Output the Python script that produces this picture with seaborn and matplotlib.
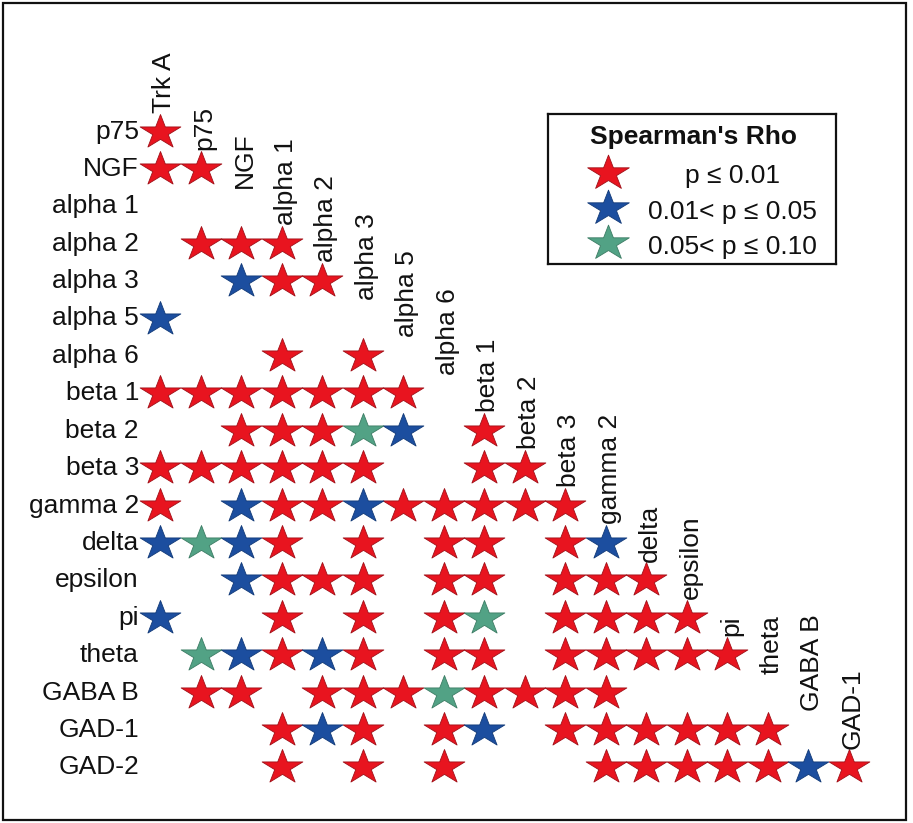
import numpy as np
import pandas as pd
import matplotlib
matplotlib.use("Agg")
import matplotlib.pyplot as plt
from matplotlib.path import Path
from matplotlib.patches import Rectangle
import seaborn as sns

# Column (x) and row (y) variables of the lower-triangular correlation table
columns = ["Trk A", "p75", "NGF", "alpha 1", "alpha 2", "alpha 3", "alpha 5",
           "alpha 6", "beta 1", "beta 2", "beta 3", "gamma 2", "delta",
           "epsilon", "pi", "theta", "GABA B", "GAD-1"]
rows = ["p75", "NGF", "alpha 1", "alpha 2", "alpha 3", "alpha 5", "alpha 6",
        "beta 1", "beta 2", "beta 3", "gamma 2", "delta", "epsilon", "pi",
        "theta", "GABA B", "GAD-1", "GAD-2"]

# Significance class of Spearman's rho per cell (one digit per column):
# 1 = p <= 0.01, 2 = 0.01 < p <= 0.05, 3 = 0.05 < p <= 0.10, 0 = not significant
significance = [
    "1",
    "11",
    "000",
    "0111",
    "00211",
    "200000",
    "0001010",
    "11111110",
    "001113201",
    "1111110011",
    "10211211111",
    "232101011012",
    "0021110110111",
    "20010101301111",
    "032121011011111",
    "0110111311110000",
    "00012101201111110",
    "000101010001111121",
]

legend_title = "Spearman's Rho"
legend_labels = ["p \u2264 0.01", "0.01< p \u2264 0.05", "0.05< p \u2264 0.10"]
level_colors = {1: "#E8141F", 2: "#1C4E9F", 3: "#52A285"}
level_edges = {1: "#A01018", 2: "#123A78", 3: "#3C7C64"}

sns.set_style("white")
plt.rcParams["font.family"] = ["Liberation Sans", "DejaVu Sans"]
FS = 19

# long-form table of significant cells
recs = []
for i, code in enumerate(significance):
    for j, ch in enumerate(code):
        lvl = int(ch)
        if lvl:
            recs.append({"col": j, "row": i, "level": lvl})
df = pd.DataFrame(recs)

# slightly flattened five-pointed star
star = Path.unit_regular_star(5, 0.381966)
verts = star.vertices.copy()
verts[:, 1] *= 0.84
star_marker = Path(verts, star.codes)

W, H = 913, 823
fig = plt.figure(figsize=(W / 100, H / 100), dpi=100)
ax = fig.add_axes([0, 0, 1, 1])

# pixel placement of the grid
X0, DX = 160.0, 40.5
Y0, DY = 131.5, 37.4
ax.set_xlim((0 - X0) / DX, (W - X0) / DX)
ax.set_ylim((H - Y0) / DY, (0 - Y0) / DY)
ax.set_axis_off()

for lvl in (1, 2, 3):
    sub = df[df["level"] == lvl]
    sns.scatterplot(data=sub, x="col", y="row", ax=ax, marker=star_marker,
                    s=860, color=level_colors[lvl],
                    edgecolor=level_edges[lvl], linewidth=0.6,
                    legend=False, zorder=3)

# row labels on the left
for i, name in enumerate(rows):
    ax.text(-0.52, i, name, ha="right", va="center", fontsize=FS, color="#111111")

# column labels along the diagonal
for j, name in enumerate(columns):
    ax.text(j + 0.1, j - 0.5, name, rotation=90, ha="center", va="bottom",
            fontsize=FS, color="#111111")

# legend box
lx0, ly0, lx1, ly1 = 548, 114, 836, 264
lax = fig.add_axes([lx0 / W, 1 - ly1 / H, (lx1 - lx0) / W, (ly1 - ly0) / H])
lax.set_xlim(0, lx1 - lx0)
lax.set_ylim(ly1 - ly0, 0)
lax.set_xticks([])
lax.set_yticks([])
for sp in lax.spines.values():
    sp.set_visible(True)
    sp.set_linewidth(1.6)
    sp.set_color("#111111")
lax.text(693 - lx0, 137 - ly0, legend_title, ha="center", va="center",
         fontsize=FS, fontweight="bold", color="#111111")
star_y = [173, 208, 243]
text_y = [176, 212, 247]
for k, lvl in enumerate((1, 2, 3)):
    lax.scatter([608 - lx0], [star_y[k] - ly0], marker=star_marker, s=900,
                color=level_colors[lvl], edgecolor=level_edges[lvl],
                linewidth=0.6, zorder=3)
    lax.text(732 - lx0, text_y[k] - ly0, legend_labels[k], ha="center",
             va="center", fontsize=FS, color="#111111")

# outer frame
fig.add_artist(Rectangle((3 / W, 1 - 820 / H), (906 - 3) / W, (820 - 3) / H,
                         transform=fig.transFigure, fill=False,
                         linewidth=1.6, edgecolor="#111111"))

fig.savefig("out.png", dpi=100)
